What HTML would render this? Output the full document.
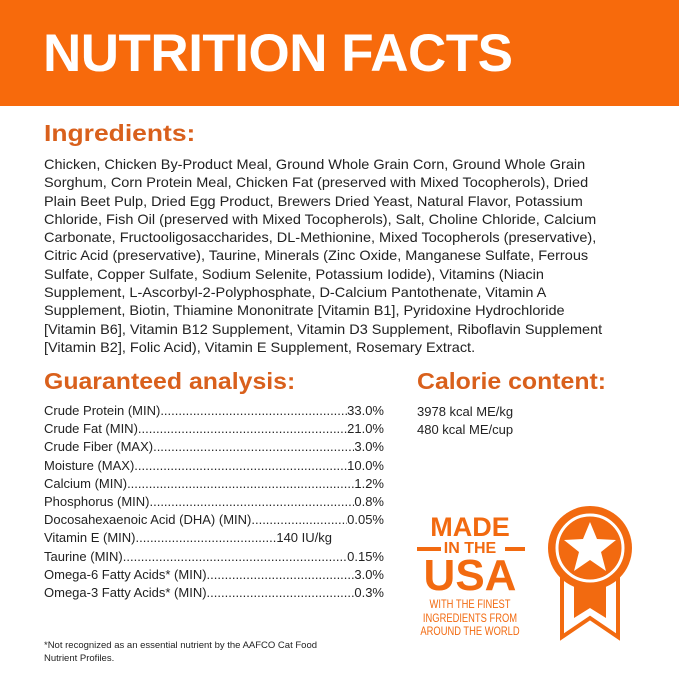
<!DOCTYPE html>
<html><head><style>
body{margin:0;width:679px;height:679px;background:#fff;font-family:"Liberation Sans",sans-serif;position:relative;overflow:hidden;color:#222}
.ban{position:absolute;left:0;top:0;width:679px;height:106px;background:#f76a0c}
.ban div{position:absolute;left:43px;top:23px;color:#fff;font-weight:bold;font-size:53px;letter-spacing:-0.5px}
h2{position:absolute;margin:0;color:#d9601c;font-size:23px;font-weight:bold;transform:scaleX(1.08);transform-origin:left;white-space:nowrap}
.ing{position:absolute;left:44px;top:155px;font-size:14px;line-height:18.3px;white-space:nowrap;transform:scaleX(1.035);transform-origin:left}
.ga{position:absolute;left:44px;top:402px;width:340px;font-size:13px;line-height:18.2px}
.r{display:flex;white-space:nowrap;overflow:hidden}
.r .d{flex:1;overflow:hidden}
.r .d:before{content:"..................................................................................................................";letter-spacing:0}
.cal{position:absolute;left:417px;top:403px;font-size:13px;line-height:18px}
.note{position:absolute;left:44px;top:639px;font-size:9.5px;line-height:13px}
.usa{position:absolute;color:#f26a10;text-align:center;font-weight:bold;white-space:nowrap}
</style></head><body>
<div class="ban"><div>NUTRITION FACTS</div></div>
<h2 style="left:44px;top:120px;transform:scaleX(1.15)">Ingredients:</h2>
<div class="ing">Chicken, Chicken By-Product Meal, Ground Whole Grain Corn, Ground Whole Grain<br>Sorghum, Corn Protein Meal, Chicken Fat (preserved with Mixed Tocopherols), Dried<br>Plain Beet Pulp, Dried Egg Product, Brewers Dried Yeast, Natural Flavor, Potassium<br>Chloride, Fish Oil (preserved with Mixed Tocopherols), Salt, Choline Chloride, Calcium<br>Carbonate, Fructooligosaccharides, DL-Methionine, Mixed Tocopherols (preservative),<br>Citric Acid (preservative), Taurine, Minerals (Zinc Oxide, Manganese Sulfate, Ferrous<br>Sulfate, Copper Sulfate, Sodium Selenite, Potassium Iodide), Vitamins (Niacin<br>Supplement, L-Ascorbyl-2-Polyphosphate, D-Calcium Pantothenate, Vitamin A<br>Supplement, Biotin, Thiamine Mononitrate [Vitamin B1], Pyridoxine Hydrochloride<br>[Vitamin B6], Vitamin B12 Supplement, Vitamin D3 Supplement, Riboflavin Supplement<br>[Vitamin B2], Folic Acid), Vitamin E Supplement, Rosemary Extract.</div>
<h2 style="left:44px;top:368px">Guaranteed analysis:</h2>
<div class="ga">
<div class="r"><span>Crude Protein (MIN)</span><span class="d"></span><span>33.0%</span></div>
<div class="r"><span>Crude Fat (MIN)</span><span class="d"></span><span>21.0%</span></div>
<div class="r"><span>Crude Fiber (MAX)</span><span class="d"></span><span>3.0%</span></div>
<div class="r"><span>Moisture (MAX)</span><span class="d"></span><span>10.0%</span></div>
<div class="r"><span>Calcium (MIN)</span><span class="d"></span><span>1.2%</span></div>
<div class="r"><span>Phosphorus (MIN)</span><span class="d"></span><span>0.8%</span></div>
<div class="r"><span>Docosahexaenoic Acid (DHA) (MIN)</span><span class="d"></span><span>0.05%</span></div>
<div class="r" style="width:288px"><span>Vitamin E (MIN)</span><span class="d"></span><span>140 IU/kg</span></div>
<div class="r"><span>Taurine (MIN)</span><span class="d"></span><span>0.15%</span></div>
<div class="r"><span>Omega-6 Fatty Acids* (MIN)</span><span class="d"></span><span>3.0%</span></div>
<div class="r"><span>Omega-3 Fatty Acids* (MIN)</span><span class="d"></span><span>0.3%</span></div>
</div>
<h2 style="left:417px;top:368px">Calorie content:</h2>
<div class="cal">3978 kcal ME/kg<br>480 kcal ME/cup</div>
<div class="usa" style="left:415px;top:514px;width:110px;font-size:27px;line-height:26px">MADE</div>
<div style="position:absolute;left:417px;top:547px;width:24px;height:4px;background:#f26a10"></div>
<div style="position:absolute;left:505px;top:547px;width:20px;height:4px;background:#f26a10"></div>
<div class="usa" style="left:415px;top:541px;width:110px;font-size:16px;line-height:16px">IN THE</div>
<div class="usa" style="left:412px;top:556px;width:116px;font-size:44px;line-height:40px">USA</div>
<div class="usa" style="left:400px;top:598px;width:140px;font-size:12px;line-height:13.5px;font-weight:normal;transform:scaleX(.78)">WITH THE FINEST<br>INGREDIENTS FROM<br>AROUND THE WORLD</div>
<svg style="position:absolute;left:540px;top:500px" width="110" height="145">
<polygon points="22,75 22,137 50,118 78,137 78,75" fill="#fff" stroke="#f26a10" stroke-width="4"/>
<polygon points="34,80 34,118 50,108 66,118 66,80" fill="#f26a10"/>
<circle cx="50" cy="48" r="42" fill="#f26a10"/>
<circle cx="50" cy="48" r="33" fill="none" stroke="#fff" stroke-width="3"/>
<polygon points="50,22 57,39 76,40 61,52 66,71 50,60 34,71 39,52 24,40 43,39" fill="#fff"/>
</svg>
<div class="note">*Not recognized as an essential nutrient by the AAFCO Cat Food<br>Nutrient Profiles.</div>
</body></html>
